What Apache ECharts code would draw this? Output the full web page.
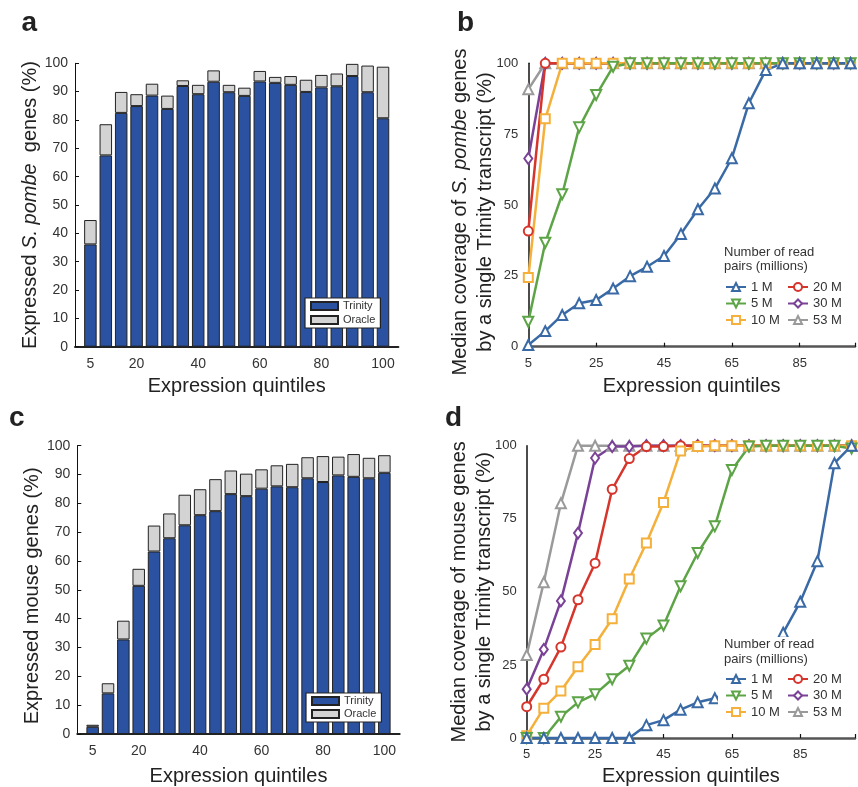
<!DOCTYPE html>
<html>
<head>
<meta charset="utf-8">
<script src="https://cdn.jsdelivr.net/npm/echarts@6/dist/echarts.min.js"></script>
<style>html,body{margin:0;padding:0;background:#fff}#c{width:858px;height:787px}</style>
</head>
<body>
<div id="c"></div>
<script>
const quintiles = [5,10,15,20,25,30,35,40,45,50,55,60,65,70,75,80,85,90,95,100];
const barTicksAC = [5,20,40,60,80,100];
const lineTicksBD = [5,25,45,65,85];

// Panel a: S. pombe
const pombeTrinity = [36.1,67.5,82.5,84.9,88.6,83.9,92.0,89.1,93.5,89.8,88.5,93.6,93.1,92.4,89.9,91.5,91.9,95.5,89.8,80.6];
const pombeOracle  = [8.6,11.0,7.4,4.2,4.2,4.7,2.0,3.3,4.0,2.6,2.9,3.7,2.1,3.1,4.3,4.4,4.5,4.3,9.4,18.2];

// Panel c: mouse
const mouseTrinity = [2.5,14.1,32.8,51.4,63.3,67.9,72.4,75.9,77.3,83.2,82.5,85.1,85.9,85.6,88.7,87.4,89.7,89.2,88.7,90.6];
const mouseOracle  = [0.7,3.5,6.5,5.9,9.0,8.6,10.6,9.0,11.1,8.2,7.8,6.7,7.3,8.1,7.3,9.0,6.5,7.9,7.1,6.1];

// Panel b: S. pombe coverage
const pombe1M  = [0.6,5.5,11.2,15.3,16.5,20.5,24.9,28.2,32.0,39.8,48.5,55.8,66.5,85.9,97.6,100,100,100,100,100];
const pombe5M  = [8.8,36.7,53.8,77.4,88.8,98.8,100,100,100,100,100,100,100,100,100,100,100,100,100,100];
const pombe10M = [24.4,80.4,100,100,100,100,100,100,100,100,100,100,100,100,100,100,100,100,100,100];
const pombe20M = [40.8,100,100,100,100,100,100,100,100,100,100,100,100,100,100,100,100,100,100,100];
const pombe30M = [66.4,100,100,100,100,100,100,100,100,100,100,100,100,100,100,100,100,100,100,100];
const pombe53M = [90.8,100,100,100,100,100,100,100,100,100,100,100,100,100,100,100,100,100,100,100];

// Panel d: mouse coverage
const mouse1M  = [0,0,0,0,0,0,0,4.4,6.1,9.7,12.2,13.6,16,20,27,36,46.6,60.5,94,100];
const mouse5M  = [0,0,7.3,12.2,15,20.1,24.7,34,38.5,51.9,63.3,72.4,91.7,99.7,100,100,100,100,100,99];
const mouse10M = [0.8,10.2,16.1,24.4,32,40.8,54.4,66.7,80.6,98.2,99.7,100,100,100,100,100,100,100,100,100];
const mouse20M = [10.7,20.1,31.1,47.3,59.8,85.1,95.6,99.7,99.7,100,100,100,100,100,100,100,100,100,100,100];
const mouse30M = [16.7,30.3,46.9,70.1,95.8,99.7,99.7,100,100,100,100,100,100,100,100,100,100,100,100,100];
const mouse53M = [28.4,53.3,80.3,100,100,100,100,100,100,100,100,100,100,100,100,100,100,100,100,100];

const FF = '"Liberation Sans", Arial, Helvetica, sans-serif';
const colors = {'1 M':'#3a6aa6','5 M':'#5da447','10 M':'#f4b03b','20 M':'#d6352c','30 M':'#7a4296','53 M':'#9a9a9a'};
const symbols = {'1 M':['emptyTriangle',0,10],'5 M':['emptyTriangle',180,10],'10 M':['emptyRect',0,9],'20 M':['emptyCircle',0,9],'30 M':['emptyDiamond',0,[8,11]],'53 M':['emptyTriangle',0,10]};

const pairs = arr => quintiles.map((q,i)=>[q, arr[i]]);
// bar panels: category axis with one empty slot on each side
const barCats = [' '].concat(quintiles.map(String), ['  ']);
const padBars = arr => ['-'].concat(arr, ['-']);

const chart = echarts.init(document.getElementById('c'), null, {renderer:'canvas'});

function barX(idx, gap){
  return {gridIndex:idx,type:'category',data:barCats,boundaryGap:false,
    axisLine:{show:true,lineStyle:{color:'#222',width:2}},
    axisTick:{show:false},splitLine:{show:false},
    axisLabel:{fontSize:14,color:'#333',fontFamily:FF,margin:10,interval:0,
      formatter:v=>barTicksAC.indexOf(Number(v))>=0 && v.trim()!==''?v:''},
    name:'Expression quintiles',nameLocation:'middle',nameGap:gap,
    nameTextStyle:{fontSize:20,color:'#222',fontFamily:FF}};
}
function barY(idx, nameStr, pad){
  return {gridIndex:idx,type:'value',min:0,max:100,interval:10,
    axisLine:{show:true,lineStyle:{color:'#111',width:1}},
    axisTick:{show:true,inside:true,length:4,lineStyle:{color:'#111'}},
    splitLine:{show:false},
    axisLabel:{fontSize:14,color:'#333',fontFamily:FF,margin:7},
    name:nameStr,nameLocation:'middle',nameGap:35,
    nameTextStyle:{fontSize:20,color:'#222',fontFamily:FF,padding:pad,
      rich:{n:{fontSize:20,color:'#222',fontFamily:FF},i:{fontSize:20,color:'#222',fontFamily:FF,fontStyle:'italic'}}}};
}
function lineX(idx, maxV, gap){
  return {gridIndex:idx,type:'value',min:5,max:maxV,interval:20,
    axisLine:{show:true,lineStyle:{color:'#555',width:2.5}},
    axisTick:{show:true,inside:true,length:4,lineStyle:{color:'#111',width:1.2}},
    splitLine:{show:false},
    axisLabel:{fontSize:13,color:'#333',fontFamily:FF,margin:10,
      formatter:v=>lineTicksBD.indexOf(v)>=0?String(v):''},
    name:'Expression quintiles',nameLocation:'middle',nameGap:gap,
    nameTextStyle:{fontSize:20,color:'#222',fontFamily:FF}};
}
function lineY(idx, nameStr, pad){
  return {gridIndex:idx,type:'value',min:0,max:100,interval:25,
    axisLine:{show:true,lineStyle:{color:'#111',width:1.5}},
    axisTick:{show:false},splitLine:{show:false},
    axisLabel:{fontSize:13,color:'#333',fontFamily:FF,margin:10},
    name:nameStr,nameLocation:'middle',nameGap:30,nameMoveOverlap:false,
    nameTextStyle:{fontSize:20,color:'#222',fontFamily:FF,lineHeight:25,padding:pad,
      rich:{n:{fontSize:20,color:'#222',fontFamily:FF,lineHeight:25},i:{fontSize:20,color:'#222',fontFamily:FF,fontStyle:'italic',lineHeight:25}}}};
}

function barSeries(idx, trin, orac){
  return [
    {name:'Trinity',type:'bar',xAxisIndex:idx,yAxisIndex:idx,stack:'s'+idx,barWidth:12.5,
     itemStyle:{color:'#2b52a1',borderColor:'#222',borderWidth:1},data:padBars(trin)},
    {name:'Oracle',type:'bar',xAxisIndex:idx,yAxisIndex:idx,stack:'s'+idx,barWidth:12.5,
     itemStyle:{color:'#d3d3d3',borderColor:'#222',borderWidth:1},data:padBars(orac)}
  ];
}
function lineSeries(idx, dataMap){
  const order = ['53 M','30 M','20 M','10 M','5 M','1 M'];
  return order.map(n=>({
    name:n,type:'line',xAxisIndex:idx,yAxisIndex:idx,
    symbol:symbols[n][0],symbolRotate:symbols[n][1],symbolSize:symbols[n][2],
    lineStyle:{color:colors[n],width:2.5},
    itemStyle:{color:colors[n],borderColor:colors[n],borderWidth:2},
    clip:false,data:pairs(dataMap[n])
  }));
}

function barLegend(left, top, gap){
  return {orient:'vertical',left:left,top:top,icon:'rect',itemWidth:27,itemHeight:8,itemGap:gap,
    selectedMode:false,borderColor:'#222',borderWidth:1.2,borderRadius:0,padding:[2,5,2,5],
    backgroundColor:'#fff',z:20,
    textStyle:{fontSize:11,color:'#333',fontFamily:FF,lineHeight:12},data:['Trinity','Oracle']};
}
function lineLegend(left, top, names){
  return {orient:'vertical',left:left,top:top,itemWidth:20,itemHeight:10,itemGap:2.5,
    selectedMode:false,padding:0,z:20,
    textStyle:{fontSize:13,color:'#333',fontFamily:FF,lineHeight:14},data:names};
}

const option = {
  animation:false,
  backgroundColor:'#fff',
  grid:[
    {left:75,top:63.3,width:323.4,height:283.4},
    {left:528.3,top:63.3,width:329.7,height:283.4},
    {left:77.3,top:445.7,width:322.4,height:291},
    {left:526.7,top:445.7,width:331.3,height:293.3}
  ],
  xAxis:[barX(0,30), lineX(1,101.3,30), barX(2,32), lineX(3,101,28)],
  yAxis:[
    barY(0,'{n|Expressed }{i|S. pombe}{n|  genes (%)}',0),
    lineY(1,'{n|Median coverage of }{i|S. pombe}{n| genes}\n{n|by a single Trinity transcript (%)}',[0,14,0,0]),
    barY(2,'Expressed mouse genes (%)',[0,12,0,0]),
    lineY(3,'Median coverage of mouse genes\nby a single Trinity transcript (%)',0)
  ],
  legend:[
    barLegend(305,298,2),
    barLegend(306,693,1),
    lineLegend(725,280,['1 M','5 M','10 M']),
    lineLegend(787,280,['20 M','30 M','53 M']),
    lineLegend(725,672,['1 M','5 M','10 M']),
    lineLegend(787,672,['20 M','30 M','53 M'])
  ],
  graphic:[
    {type:'rect',z:15,shape:{x:718,y:637,width:140,height:86},style:{fill:'#fff'}},
    {type:'text',z:25,style:{x:21.5,y:23.3,text:'a',font:'bold 28px '+FF,fill:'#222',verticalAlign:'middle'}},
    {type:'text',z:25,style:{x:457,y:23.3,text:'b',font:'bold 28px '+FF,fill:'#222',verticalAlign:'middle'}},
    {type:'text',z:25,style:{x:9,y:418.3,text:'c',font:'bold 28px '+FF,fill:'#222',verticalAlign:'middle'}},
    {type:'text',z:25,style:{x:445,y:418.3,text:'d',font:'bold 28px '+FF,fill:'#222',verticalAlign:'middle'}},
    {type:'text',z:25,style:{x:724,y:245,text:'Number of read\npairs (millions)',font:'13px '+FF,fill:'#333',lineHeight:14.5,verticalAlign:'top'}},
    {type:'text',z:25,style:{x:724,y:637.5,text:'Number of read\npairs (millions)',font:'13px '+FF,fill:'#333',lineHeight:14.5,verticalAlign:'top'}}
  ],
  series:[].concat(
    barSeries(0,pombeTrinity,pombeOracle),
    lineSeries(1,{'1 M':pombe1M,'5 M':pombe5M,'10 M':pombe10M,'20 M':pombe20M,'30 M':pombe30M,'53 M':pombe53M}),
    barSeries(2,mouseTrinity,mouseOracle),
    lineSeries(3,{'1 M':mouse1M,'5 M':mouse5M,'10 M':mouse10M,'20 M':mouse20M,'30 M':mouse30M,'53 M':mouse53M})
  )
};
chart.setOption(option);
</script>
</body>
</html>
